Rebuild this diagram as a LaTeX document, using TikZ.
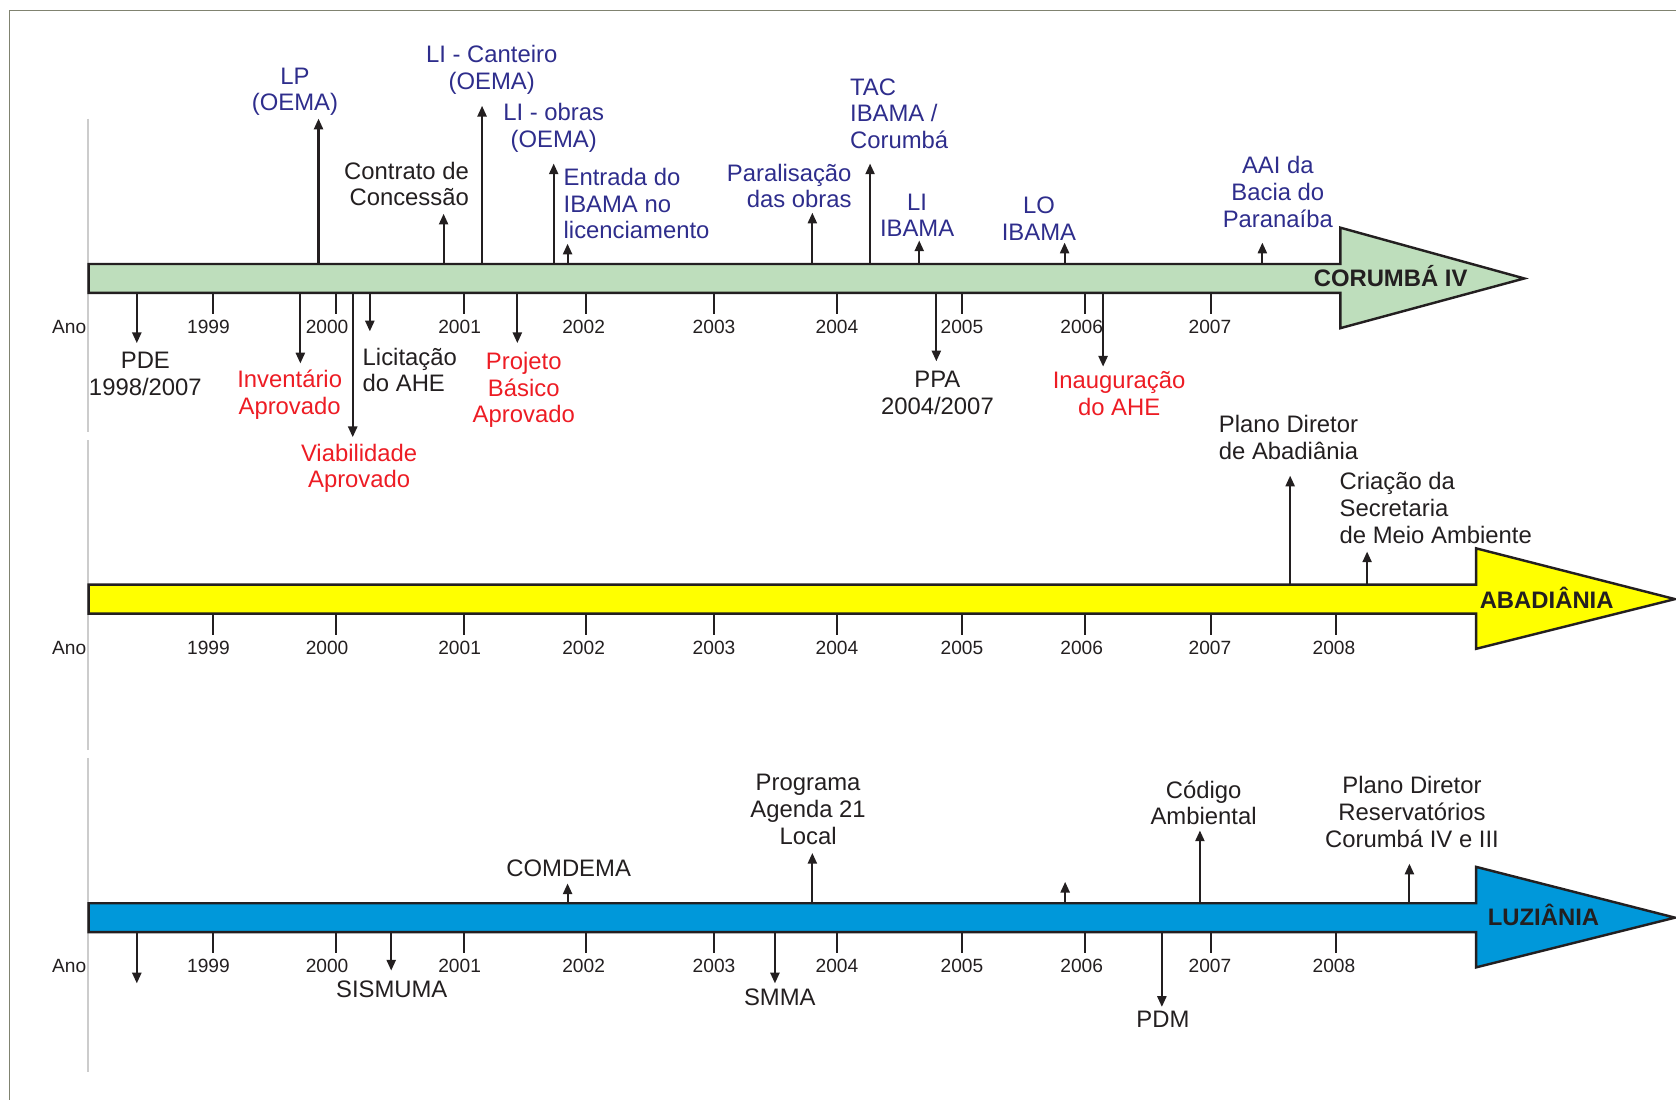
\documentclass[tikz,border=0pt]{standalone}
\usepackage{fontspec}
\setmainfont{Liberation Sans}
\usetikzlibrary{arrows.meta}

\definecolor{evblack}{RGB}{35,31,32}
\definecolor{evblue}{RGB}{46,45,140}
\definecolor{evred}{RGB}{237,28,36}
\definecolor{barGreen}{RGB}{190,222,188}
\definecolor{barYellow}{RGB}{255,255,0}
\definecolor{barBlue}{RGB}{0,152,218}
\definecolor{frameGray}{RGB}{128,131,112}
\definecolor{axisGray}{RGB}{204,204,204}

\newcommand\evfont{\fontsize{12.7}{14.23}\selectfont}
\newcommand\yrfont{\fontsize{10.2}{12}\selectfont}
\newcommand\barfont{\fontsize{12.7}{14.23}\selectfont\bfseries}

\begin{document}
\begin{tikzpicture}[x=0.02cm, y=-0.02cm,
    ev/.style={line width=1.1pt, draw=evblack, -{Triangle[length=0.2cm,width=0.17cm]}},
    yeartick/.style={line width=1.1pt, draw=evblack},
    yr/.style={font=\yrfont, text=evblack, inner sep=0pt, anchor=base},
    lbl/.style={font=\evfont, text=evblack, inner sep=0pt, anchor=north, align=center},
    lblue/.style={lbl, text=evblue},
    lred/.style={lbl, text=evred},
    barname/.style={font=\barfont, text=evblack, inner sep=0pt, anchor=base},
    bar/.style={draw=evblack, line width=1.3pt, line join=miter}]
    \useasboundingbox (0,0) rectangle (1568,1029);

    % frame and axis line
    \draw[frameGray, line width=0.7pt] (8.9,1029) -- (8.9,9.8) -- (1568,9.8);
    \draw[axisGray, line width=1.1pt] (82.3,111) -- (82.3,404);
    \draw[axisGray, line width=1.1pt] (82.3,412) -- (82.3,702);
    \draw[axisGray, line width=1.1pt] (82.3,709) -- (82.3,1003);

    % bars
    \draw[bar, fill=barGreen] (83,247) -- (1254,247) -- (1254,213) -- (1426,260.5)
        -- (1254,307) -- (1254,274) -- (83,274) -- cycle;
    \draw[bar, fill=barYellow] (83,547) -- (1381,547) -- (1381,513) -- (1567,560.5)
        -- (1381,607) -- (1381,574) -- (83,574) -- cycle;
    \draw[bar, fill=barBlue] (83,845) -- (1381,845) -- (1381,811) -- (1567,858.5)
        -- (1381,905) -- (1381,872) -- (83,872) -- cycle;

    \node[barname] (corumba) at (1301,268) {CORUMBÁ IV};
    \node[barname] (abadiania) at (1447,569) {ABADIÂNIA};
    \node[barname] (luziania) at (1444,866) {LUZIÂNIA};

    % years
    \node[yr, anchor=base east] (cano) at (81,312) {Ano};
    \node[yr, anchor=base east] (aano) at (81,612) {Ano};
    \node[yr, anchor=base east] (lano) at (81,910) {Ano};
    \foreach \t/\l/\yr in {199/195/1999,314/306/2000,434/430/2001,548/546/2002,
        668/668/2003,783/783/2004,900/900/2005,1015/1012/2006,1133/1132/2007}{
        \draw[yeartick] (\t,274) -- (\t,294);
        \node[yr] (c\yr) at (\l,312) {\yr};
    }
    \foreach \t/\l/\yr in {199/195/1999,314/306/2000,434/430/2001,548/546/2002,
        668/668/2003,783/783/2004,900/900/2005,1015/1012/2006,1133/1132/2007,1250/1248/2008}{
        \draw[yeartick] (\t,574) -- (\t,594);
        \draw[yeartick] (\t,872) -- (\t,892);
        \node[yr] (a\yr) at (\l,612) {\yr};
        \node[yr] (l\yr) at (\l,910) {\yr};
    }

    % Corumba IV
    \node[lblue] (lp) at (276,63) {LP\\(OEMA)};
    \node[lbl, anchor=north east, align=right] (contrato) at (439,151) {Contrato de\\Concessão};
    \node[lblue] (licanteiro) at (460,42) {LI - Canteiro\\(OEMA)};
    \node[lblue] (liobras) at (518,96) {LI - obras\\(OEMA)};
    \node[lblue, anchor=north west, align=left] (entrada) at (527,157) {Entrada do\\IBAMA no\\licenciamento};
    \node[lblue, anchor=north east, align=right] (paralisacao) at (797,153) {Paralisação\\das obras};
    \node[lblue, anchor=north west, align=left] (tac) at (795,73) {TAC\\IBAMA /\\Corumbá};
    \node[lblue] (liibama) at (858,181) {LI\\IBAMA};
    \node[lblue] (loibama) at (972,184) {LO\\IBAMA};
    \node[lblue] (aai) at (1195.5,146) {AAI da\\Bacia do\\Paranaíba};
    \node[lbl] (pde) at (136,329) {PDE\\1998/2007};
    \node[lred] (inventario) at (271,346) {Inventário\\Aprovado};
    \node[lred] (viabilidade) at (336,415) {Viabilidade\\Aprovado};
    \node[lbl, anchor=north west, align=left] (licitacao) at (339,325) {Licitação\\do AHE};
    \node[lred] (projeto) at (490,329) {Projeto\\Básico\\Aprovado};
    \node[lbl] (ppa) at (877,347) {PPA\\2004/2007};
    \node[lred] (inauguracao) at (1047,347) {Inauguração\\do AHE};

    \coordinate (lp0) at (298,247);          \coordinate (lp1) at (298,111);
    \coordinate (contrato0) at (415,247);    \coordinate (contrato1) at (415,200);
    \coordinate (licanteiro0) at (451,247);  \coordinate (licanteiro1) at (451,99);
    \coordinate (liobras0) at (518,247);     \coordinate (liobras1) at (518,153);
    \coordinate (entrada0) at (531,247);     \coordinate (entrada1) at (531,228);
    \coordinate (paralisacao0) at (760,247); \coordinate (paralisacao1) at (760,199);
    \coordinate (tac0) at (814,247);         \coordinate (tac1) at (814,153);
    \coordinate (liibama0) at (860,247);     \coordinate (liibama1) at (860,225);
    \coordinate (loibama0) at (996,247);     \coordinate (loibama1) at (996,227);
    \coordinate (aai0) at (1181,247);        \coordinate (aai1) at (1181,227);
    \coordinate (pde0) at (128,274);         \coordinate (pde1) at (128,321);
    \coordinate (inventario0) at (281,274);  \coordinate (inventario1) at (281,340);
    \coordinate (viabilidade0) at (330,274); \coordinate (viabilidade1) at (330,409);
    \coordinate (licitacao0) at (346,274);   \coordinate (licitacao1) at (346,310);
    \coordinate (projeto0) at (484,274);     \coordinate (projeto1) at (484,321);
    \coordinate (ppa0) at (876,274);         \coordinate (ppa1) at (876,338);
    \coordinate (inauguracao0) at (1032,274);\coordinate (inauguracao1) at (1032,343);

    \draw[ev] (lp0) -- (lp1);
    \draw[ev] (contrato0) -- (contrato1);
    \draw[ev] (licanteiro0) -- (licanteiro1);
    \draw[ev] (liobras0) -- (liobras1);
    \draw[ev] (entrada0) -- (entrada1);
    \draw[ev] (paralisacao0) -- (paralisacao1);
    \draw[ev] (tac0) -- (tac1);
    \draw[ev] (liibama0) -- (liibama1);
    \draw[ev] (loibama0) -- (loibama1);
    \draw[ev] (aai0) -- (aai1);
    \draw[ev] (pde0) -- (pde1);
    \draw[ev] (inventario0) -- (inventario1);
    \draw[ev] (viabilidade0) -- (viabilidade1);
    \draw[ev] (licitacao0) -- (licitacao1);
    \draw[ev] (projeto0) -- (projeto1);
    \draw[ev] (ppa0) -- (ppa1);
    \draw[ev] (inauguracao0) -- (inauguracao1);

    % Abadiania
    \node[lbl, anchor=north west, align=left] (plano) at (1140,388) {Plano Diretor\\de Abadiânia};
    \node[lbl, anchor=north west, align=left] (criacao) at (1253,441.5) {Criação da\\Secretaria\\de Meio Ambiente};

    \coordinate (plano0) at (1207,547);      \coordinate (plano1) at (1207,445);
    \coordinate (criacao0) at (1279,547);    \coordinate (criacao1) at (1279,516);

    \draw[ev] (plano0) -- (plano1);
    \draw[ev] (criacao0) -- (criacao1);

    % Luziania
    \node[lbl] (comdema) at (532,804) {COMDEMA};
    \node[lbl] (programa) at (756,724) {Programa\\Agenda 21\\Local};
    \node[lbl] (sismuma) at (366.5,917) {SISMUMA};
    \node[lbl] (smma) at (729.6,925) {SMMA};
    \node[lbl] (codigo) at (1126,730) {Código\\Ambiental};
    \node[lbl] (pdm) at (1088,946) {PDM};
    \node[lbl] (planores) at (1321,726) {Plano Diretor\\Reservatórios\\Corumbá IV e III};

    \coordinate (comdema0) at (531,845);     \coordinate (comdema1) at (531,826.5);
    \coordinate (programa0) at (760,845);    \coordinate (programa1) at (760,798);
    \coordinate (lup0) at (996.5,845);       \coordinate (lup1) at (996.5,825);
    \coordinate (codigo0) at (1122.6,845);   \coordinate (codigo1) at (1122.6,777);
    \coordinate (planores0) at (1318.6,845); \coordinate (planores1) at (1318.6,808);
    \coordinate (ldown0) at (128,872);       \coordinate (ldown1) at (128,920);
    \coordinate (sismuma0) at (366,872);     \coordinate (sismuma1) at (366,908);
    \coordinate (smma0) at (725,872);        \coordinate (smma1) at (725,920);
    \coordinate (pdm0) at (1087,872);        \coordinate (pdm1) at (1087,942);

    \draw[ev] (comdema0) -- (comdema1);
    \draw[ev] (programa0) -- (programa1);
    \draw[ev] (lup0) -- (lup1);
    \draw[ev] (codigo0) -- (codigo1);
    \draw[ev] (planores0) -- (planores1);
    \draw[ev] (ldown0) -- (ldown1);
    \draw[ev] (sismuma0) -- (sismuma1);
    \draw[ev] (smma0) -- (smma1);
    \draw[ev] (pdm0) -- (pdm1);
\end{tikzpicture}
\end{document}
